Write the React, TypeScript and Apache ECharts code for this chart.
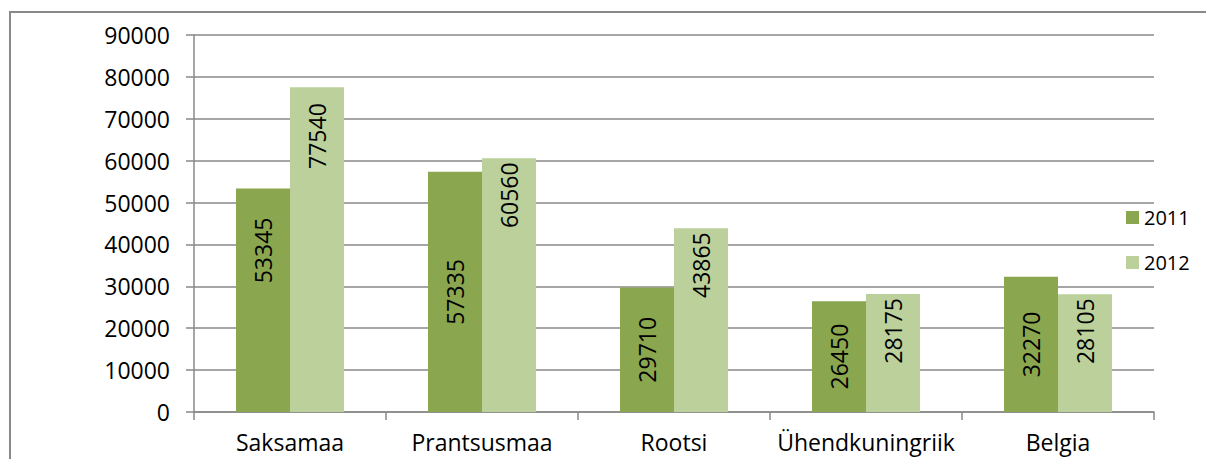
import React, { useEffect, useRef } from "react";
import * as echarts from "echarts";

const categories = ["Saksamaa", "Prantsusmaa", "Rootsi", "Ühendkuningriik", "Belgia"];
const seriesNames = ["2011", "2012"];
const values2011 = [53345, 57335, 29710, 26450, 32270];
const values2012 = [77540, 60560, 43865, 28175, 28105];
const yTicks = { min: 0, max: 90000, interval: 10000 };

const FONT = "'Open Sans', 'Noto Sans', sans-serif";
const GRAY = "#898989";

export default function App() {
  const ref = useRef<HTMLDivElement>(null);
  useEffect(() => {
    document.body.style.margin = "0";
    const chart = echarts.init(ref.current!, null, { renderer: "svg" });
    const baseLabel = {
      show: true,
      rotate: 90,
      color: "#000",
      fontFamily: FONT,
      fontSize: 23,
    };
    chart.setOption({
      animation: false,
      textStyle: { fontFamily: FONT },
      graphic: [
        {
          type: "rect",
          shape: { x: 10, y: 12, width: 1400, height: 700 },
          style: { fill: "none", stroke: GRAY, lineWidth: 2 },
          silent: true,
        },
      ],
      grid: { left: 194, right: 52, top: 35, bottom: 47 },
      legend: {
        orient: "vertical",
        left: 1121,
        top: 200,
        itemWidth: 13,
        itemHeight: 13,
        itemGap: 20,
        icon: "rect",
        textStyle: { fontFamily: FONT, fontSize: 20, color: "#000", padding: [0, 0, 0, 0], lineHeight: 25 },
        data: seriesNames,
      },
      xAxis: {
        type: "category",
        data: categories,
        axisLine: { lineStyle: { color: GRAY, width: 1.5 } },
        axisTick: { show: true, length: 8, lineStyle: { color: GRAY, width: 1.5 } },
        axisLabel: { color: "#000", fontFamily: FONT, fontSize: 23, margin: 18, interval: 0 },
      },
      yAxis: {
        type: "value",
        min: yTicks.min,
        max: yTicks.max,
        interval: yTicks.interval,
        axisLine: { show: true, lineStyle: { color: GRAY, width: 1.5 } },
        axisTick: { show: true, length: 8, lineStyle: { color: GRAY, width: 1.5 } },
        splitLine: { lineStyle: { color: GRAY, width: 1.5 } },
        axisLabel: {
          color: "#000",
          fontFamily: FONT,
          fontSize: 23,
          margin: 24,
          formatter: (v: number) => String(v),
        },
      },
      series: [
        {
          name: seriesNames[0],
          type: "bar",
          barGap: "0%",
          barCategoryGap: "43.75%",
          itemStyle: { color: "#8AA64F" },
          label: { ...baseLabel, position: "inside", align: "center", verticalAlign: "middle" },
          data: values2011.map((v, i) =>
            i === 0
              ? {
                  value: v,
                  label: { position: "insideTop", distance: 29, align: "right", verticalAlign: "middle" },
                }
              : v
          ),
        },
        {
          name: seriesNames[1],
          type: "bar",
          barGap: "0%",
          barCategoryGap: "43.75%",
          itemStyle: { color: "#BBD09A" },
          label: { ...baseLabel, position: "insideTop", distance: 4, align: "right", verticalAlign: "middle" },
          data: values2012.map((v, i) => (i === 0 ? { value: v, label: { distance: 16 } } : v)),
        },
      ],
    });
    return () => chart.dispose();
  }, []);
  return <div ref={ref} style={{ width: 1206, height: 459 }} />;
}
